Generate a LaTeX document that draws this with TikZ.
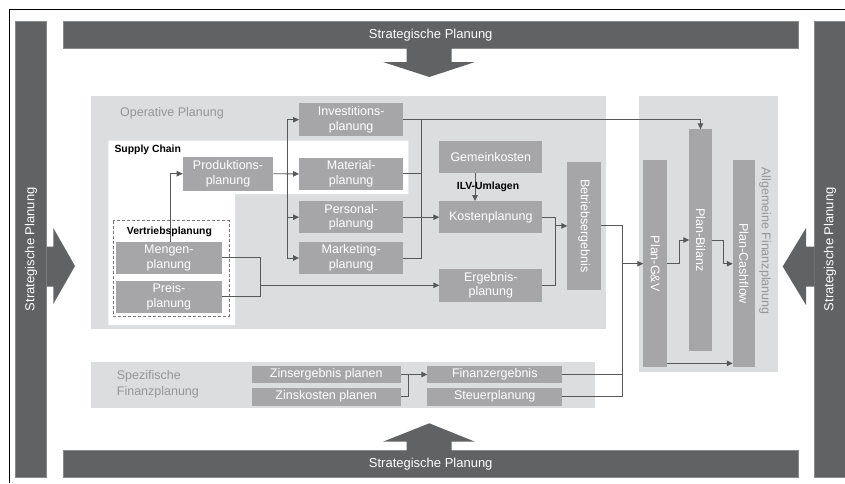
\documentclass[tikz,border=0pt]{standalone}
\usepackage{fontspec}
\setmainfont{Liberation Sans}
\usetikzlibrary{arrows.meta}
\definecolor{barc}{RGB}{97,98,100}
\definecolor{panelc}{RGB}{220,221,222}
\definecolor{boxc}{RGB}{166,166,168}
\definecolor{linec}{RGB}{88,88,88}
\definecolor{ptext}{RGB}{150,150,150}
\definecolor{dashc}{RGB}{120,120,120}
\begin{document}
\begin{tikzpicture}[x=1pt,y=-1pt,
  bx/.style={fill=boxc, inner sep=0pt, outer sep=0pt, text=white, align=center, font=\fontsize{12.5}{14.5}\selectfont},
  wt/.style={text=white, inner sep=0pt, font=\fontsize{12.5}{14.5}\selectfont},
  bar/.style={fill=barc, draw=barc!75!white, line width=0.6pt, inner sep=0pt, text=white, font=\fontsize{13}{15}\selectfont},
  ln/.style={draw=linec, line width=0.9pt},
  arr/.style={ln, -{Triangle[length=6pt,width=5.5pt]}},
  bigarrow/.style={fill=barc},
  lbl/.style={font=\fontsize{10.4}{12}\selectfont\bfseries, inner sep=0pt},
  ptxt/.style={text=ptext, font=\fontsize{12.5}{15.5}\selectfont, inner sep=0pt}
]
\useasboundingbox (0,0) rectangle (845,483);
\fill[white] (0,0) rectangle (845,483);
% outer frame
\draw[black, line width=0.8pt] (9.5,483) -- (9.5,9.5) -- (845,9.5);

% strategic bars
\node[bar, minimum width=734.7pt, minimum height=27pt] (topbar) at (430.7,34.8) {Strategische Planung};
\node[bar, minimum width=734.7pt, minimum height=26.3pt] (botbar) at (430.7,463.9) {Strategische Planung};
\node[bar, rotate=90, minimum width=455.7pt, minimum height=31.4pt] (leftbar) at (31,249.2) {Strategische Planung};
\node[bar, rotate=90, minimum width=455.7pt, minimum height=32pt] (rightbar) at (830,249.2) {Strategische Planung};

% big arrows
\fill[bigarrow] (406.7,47.5) -- (406.7,62) -- (383,62) -- (429.3,77) -- (475,62) -- (451.7,62) -- (451.7,47.5) -- cycle;
\fill[bigarrow] (406.7,451) -- (406.7,441.7) -- (383,441.7) -- (429.3,423.3) -- (475,441.7) -- (451.7,441.7) -- (451.7,451) -- cycle;
\fill[bigarrow] (46.5,246.5) -- (53.3,246.5) -- (53.3,228) -- (75,266) -- (53.3,304) -- (53.3,286.5) -- (46.5,286.5) -- cycle;
\fill[bigarrow] (814.5,246.5) -- (806,246.5) -- (806,228) -- (782.7,266.5) -- (806,305) -- (806,286.5) -- (814.5,286.5) -- cycle;

% panels
\fill[panelc] (90.7,96) rectangle (606,329.3);
\fill[panelc] (639,96) rectangle (777.7,371.7);
\fill[panelc] (91,362.3) rectangle (595,408.3);
\fill[white] (108.3,140.7) -- (408.3,140.7) -- (408.3,194) -- (235,194) -- (235,325) -- (108.3,325) -- cycle;
\draw[dashc, dashed, line width=0.9pt, dash pattern=on 3pt off 2pt] (113.3,220.7) rectangle (229,316);

\node[ptxt, anchor=west] (optxt) at (120,113) {Operative Planung};
\node[ptxt, anchor=west, align=left] (sptxt) at (116.7,384.5) {Spezifische\\Finanzplanung};
\node[ptxt, rotate=-90] (alltxt) at (765,241) {Allgemeine Finanzplanung};
\node[lbl, anchor=west] (sctxt) at (114.3,150) {Supply Chain};

% boxes
\node[bx, minimum width=104.3pt, minimum height=32.7pt] (inv) at (351.2,119.7) {Investitions-\\planung};
\node[bx, minimum width=104.3pt, minimum height=32.3pt] (mat) at (351.2,173.9) {Material-\\planung};
\node[bx, minimum width=104.3pt, minimum height=32.3pt] (pers) at (351.2,217.2) {Personal-\\planung};
\node[bx, minimum width=104.3pt, minimum height=32.6pt] (mark) at (351.2,258) {Marketing-\\planung};
\node[bx, minimum width=103pt, minimum height=32.3pt] (gem) at (490.8,157.2) {Gemeinkosten};
\node[bx, minimum width=103pt, minimum height=32.3pt] (kost) at (490.8,217.2) {Kostenplanung};
\node[bx, minimum width=103pt, minimum height=32.7pt] (erg) at (490.8,285.3) {Ergebnis-\\planung};
\node[bx, minimum width=33.4pt, minimum height=128.3pt] (betr) at (584,225.9) {};
\node[wt, rotate=-90] at (betr) {Betriebsergebnis};
\node[bx, minimum width=90.6pt, minimum height=34pt] (prod) at (228,173.7) {Produktions-\\planung};
\node[bx, minimum width=105.7pt, minimum height=32.3pt] (meng) at (168.9,257.9) {Mengen-\\planung};
\node[bx, minimum width=105.7pt, minimum height=32pt] (preis) at (168.9,296.7) {Preis-\\planung};
\node[bx, minimum width=24pt, minimum height=207.3pt] (pgv) at (655.3,263.7) {};
\node[wt, rotate=-90] at (pgv) {Plan-G\&V};
\node[bx, minimum width=22.4pt, minimum height=221.4pt] (pbil) at (700.5,240) {};
\node[wt, rotate=-90] at (pbil) {Plan-Bilanz};
\node[bx, minimum width=22.3pt, minimum height=207.3pt] (pcf) at (743.9,263.7) {};
\node[wt, rotate=-90] at (pcf) {Plan-Cashflow};
\node[bx, minimum width=149pt, minimum height=17.6pt] (zerg) at (326.2,374.5) {Zinsergebnis planen};
\node[bx, minimum width=149pt, minimum height=18pt] (zkost) at (326.2,396.7) {Zinskosten planen};
\node[bx, minimum width=135pt, minimum height=17.6pt] (fin) at (494.8,374.5) {Finanzergebnis};
\node[bx, minimum width=135pt, minimum height=18pt] (steu) at (494.8,396.7) {Steuerplanung};

% junction coordinates
\coordinate (dv) at (287.3,0);
\coordinate (cv) at (421.7,0);
\coordinate (j1) at (260,285.3);
\coordinate (j2) at (555,225.9);
\coordinate (j3) at (622.7,263.7);
\coordinate (j4) at (408.3,374.5);

% connectors
\draw[arr] ([xshift=1.1pt]meng.north) |- (prod.west);
\draw[arr] (prod.east) -- (mat.west);
\draw[ln] (dv |- inv.west) -- (dv |- mark.west);
\draw[arr] (dv |- inv.west) -- (inv.west);
\draw[arr] (dv |- pers.west) -- (pers.west);
\draw[arr] (dv |- mark.west) -- (mark.west);

\draw[arr] (inv.east) -| (pbil.north);
\draw[ln] (cv |- inv.east) -- (cv |- mark.east);
\draw[ln] (mat.east) -- (cv |- mat.east);
\draw[ln] (mark.east) -- (cv |- mark.east);
\draw[arr] (pers.east) -- (kost.west);
\draw[arr] ([xshift=-15.8pt]gem.south) -- ([xshift=-15.8pt]kost.north);

\draw[ln] (meng.east) -| (j1);
\draw[ln] (preis.east) -| (j1);
\draw[arr] (j1) -- (erg.west);

\draw[ln] (kost.east) -| (j2);
\draw[ln] (erg.east) -| (j2);
\draw[arr] (j2) -- (betr.west);

\draw[ln] (betr.east) -| (j3);
\draw[ln] (fin.east) -| (j3);
\draw[ln] (steu.east) -| (j3);
\draw[arr] (j3) -- (pgv.west);

\draw[arr] (pgv.east) -- ++(11.7,0) |- (pbil.west);
\draw[arr] (pbil.east) -- ++(11.6,0) |- (pcf.west);
\draw[arr] ([yshift=4pt]pgv.south east) -- ([yshift=4pt]pcf.south west);

\draw[arr] (zerg.east) -- (fin.west);
\draw[ln] (zkost.east) -| (j4);

% bold labels
\node[lbl, anchor=west] (vtxt) at (126.7,231.7) {Vertriebsplanung};
\node[lbl] (ilv) at (488,186.7) {ILV-Umlagen};
\end{tikzpicture}
\end{document}
